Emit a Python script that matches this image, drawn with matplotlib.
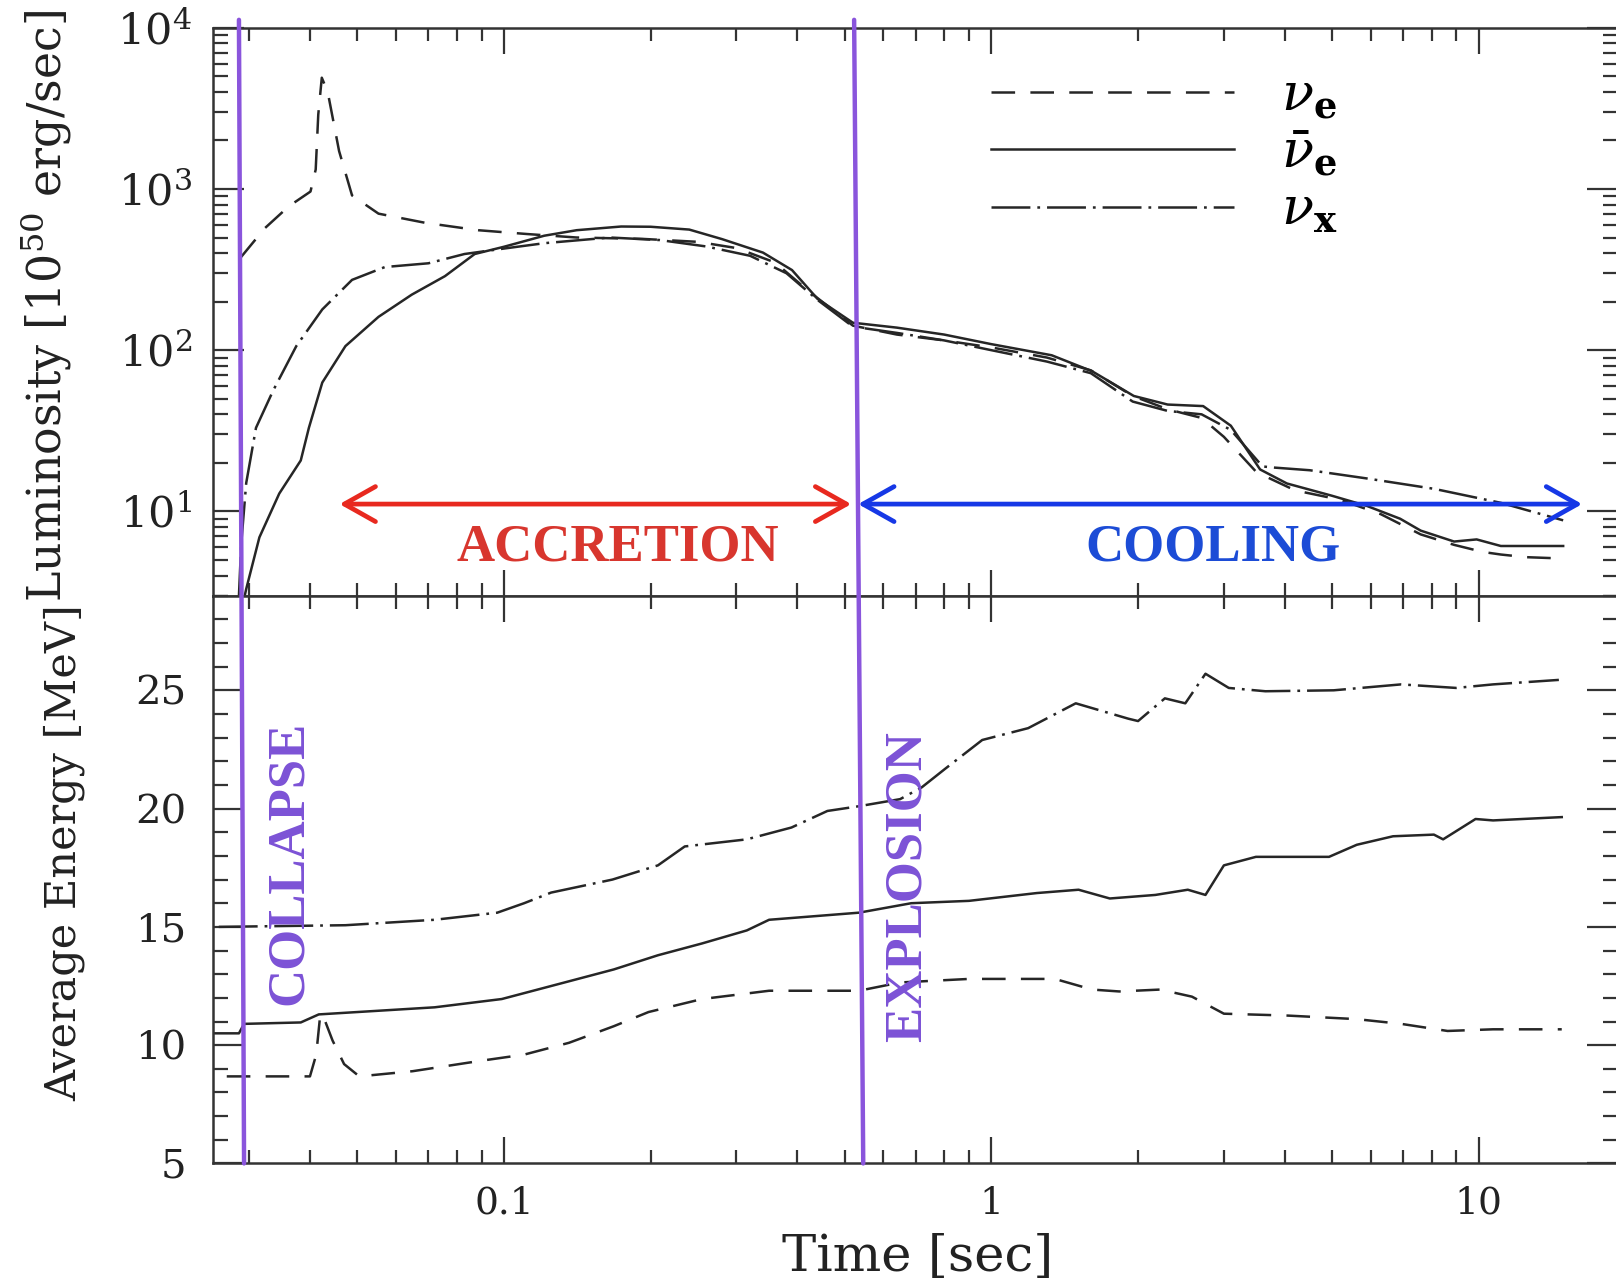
#!/usr/bin/env python3
"""
Neutrino luminosity and mean energy of a core-collapse supernova vs. time.
"""

import matplotlib
matplotlib.use('Agg')
import matplotlib.pyplot as plt
from matplotlib.patches import ConnectionPatch
from matplotlib.ticker import MultipleLocator, FuncFormatter, LogLocator, NullFormatter

# luminosity [10^50 erg/s]
lum_time_nue = [0.0288, 0.0323, 0.0362, 0.0401, 0.0411, 0.0416, 0.0423, 0.0435, 0.0459,
                0.0488, 0.0553, 0.0689, 0.0885, 0.112, 0.141, 0.193, 0.25, 0.30, 0.36,
                0.42, 0.47, 0.52, 0.64, 0.80, 1.0, 1.3, 1.6, 1.95, 2.3, 2.7, 3.0, 3.5,
                4.2, 5.2, 6.3, 7.6, 8.9, 10.2, 11.1, 12.5, 14.9]
lum_nue = [374, 570, 781, 964, 1320, 2890, 4900, 4000, 1720, 912, 703, 617, 555, 525,
           500, 490, 470, 430, 350, 235, 180, 142, 125, 115, 104, 90, 75, 52, 43, 38,
           29, 17.5, 13.5, 11.8, 9.6, 7.2, 6.2, 5.6, 5.4, 5.2, 5.1]

lum_time_nuebar = [0.0290, 0.0296, 0.0315, 0.0346, 0.0383, 0.0398, 0.0424, 0.0473, 0.0553,
                   0.0647, 0.0757, 0.0871, 0.1, 0.121, 0.141, 0.174, 0.2, 0.24, 0.28,
                   0.34, 0.39, 0.44, 0.52, 0.64, 0.80, 1.0, 1.33, 1.61, 1.96, 2.3, 2.72,
                   3.1, 3.56, 4.04, 5.0, 5.9, 6.9, 7.6, 8.9, 9.9, 11.1, 14.9]
lum_nuebar = [2.5, 3.3, 6.9, 12.9, 20.7, 33, 63, 106, 161, 221, 288, 395, 438, 513, 555,
              585, 583, 560, 489, 403, 314, 208, 148, 138, 125, 109, 93, 74, 52, 46, 45,
              34, 18.2, 14.9, 12.5, 10.8, 9.0, 7.6, 6.5, 6.7, 6.1, 6.1]

lum_time_nux = [0.0286, 0.0289, 0.0296, 0.031, 0.0336, 0.0375, 0.0424, 0.0488, 0.057,
                0.070, 0.083, 0.1, 0.121, 0.165, 0.209, 0.26, 0.32, 0.38, 0.44, 0.52,
                0.64, 0.80, 1.0, 1.3, 1.6, 1.95, 2.3, 2.7, 3.1, 3.6, 3.8, 4.5, 5.9, 8.1,
                11.1, 14.9]
lum_nux = [3.0, 6.2, 15, 33, 56, 106, 179, 273, 328, 346, 395, 427, 461, 500, 482, 440,
           385, 300, 205, 140, 128, 115, 100, 85, 72, 48, 42, 40, 32, 19, 18.7, 18, 16,
           13.8, 11.3, 8.8]

# average energy [MeV]
en_time_nue = [0.0270, 0.040, 0.0412, 0.0420, 0.0430, 0.0445, 0.0470, 0.0505, 0.065,
               0.089, 0.110, 0.136, 0.168, 0.198, 0.255, 0.35, 0.535, 0.65, 0.90, 1.35,
               1.61, 1.83, 2.22, 2.58, 3.0, 4.06, 5.62, 6.93, 8.63, 10.7, 14.8]
en_nue = [8.68, 8.68, 9.6, 11.3, 11.0, 10.2, 9.2, 8.68, 8.9, 9.33, 9.6, 10.1, 10.8, 11.4,
          11.95, 12.3, 12.3, 12.65, 12.8, 12.8, 12.35, 12.27, 12.35, 12.05, 11.33, 11.25,
          11.1, 10.9, 10.6, 10.67, 10.67]

en_time_nuebar = [0.0253, 0.0286, 0.0293, 0.0383, 0.0417, 0.0721, 0.099, 0.136, 0.168,
                  0.207, 0.255, 0.315, 0.350, 0.535, 0.685, 0.90, 1.24, 1.51, 1.75, 2.17,
                  2.53, 2.75, 3.0, 3.49, 4.93, 5.62, 6.67, 8.09, 8.45, 9.85, 10.7, 14.8]
en_nuebar = [10.5, 10.5, 10.9, 10.96, 11.3, 11.6, 11.95, 12.7, 13.2, 13.8, 14.3, 14.85,
             15.3, 15.6, 16.0, 16.1, 16.43, 16.57, 16.2, 16.35, 16.57, 16.35, 17.6, 17.96,
             17.96, 18.47, 18.83, 18.9, 18.7, 19.56, 19.5, 19.64]

en_time_nux = [0.0260, 0.0473, 0.0721, 0.0969, 0.110, 0.125, 0.167, 0.207, 0.235, 0.315,
               0.389, 0.461, 0.535, 0.65, 0.72, 0.806, 0.958, 1.19, 1.49, 1.91, 2.0, 2.27,
               2.5, 2.75, 3.07, 3.65, 5.04, 6.93, 8.99, 10.7, 14.6]
en_nux = [15.0, 15.07, 15.3, 15.6, 16.0, 16.45, 17.0, 17.6, 18.4, 18.7, 19.2, 19.9, 20.1,
          20.4, 20.9, 21.7, 22.9, 23.4, 24.45, 23.8, 23.7, 24.66, 24.45, 25.7, 25.1,
          24.96, 25.0, 25.25, 25.1, 25.25, 25.44]

# phases of the explosion
collapse_time = (0.0286, 0.0293)
explosion_time = (0.523, 0.546)
accretion_span = (0.046, 0.516)
cooling_span = (0.533, 16.3)
arrow_level = 11.1

labels = [r'$\nu_{\mathbf{e}}$', r'$\bar{\nu}_{\mathbf{e}}$', r'$\nu_{\mathbf{x}}$']

plt.rcParams['font.family'] = ['DejaVu Serif']
plt.rcParams['mathtext.fontset'] = 'dejavuserif'
plt.rcParams['lines.scale_dashes'] = False

INK = '#262626'
PURPLE = '#8a55dc'
styles = [(0, (17, 11)), '-', (0, (28, 5, 2, 5))]

fig = plt.figure(figsize=(16.16, 12.86), dpi=100)
ax_lum = fig.add_axes([0.1318, 0.5368, 0.8694, 0.4416])
ax_en = fig.add_axes([0.1318, 0.0953, 0.8694, 0.4415], sharex=ax_lum)

lum_series = [(lum_time_nue, lum_nue), (lum_time_nuebar, lum_nuebar), (lum_time_nux, lum_nux)]
en_series = [(en_time_nue, en_nue), (en_time_nuebar, en_nuebar), (en_time_nux, en_nux)]

for (t, v), ls, lab in zip(lum_series, styles, labels):
    ax_lum.plot(t, v, color=INK, lw=1.8, linestyle=ls, label=lab)
for (t, v), ls in zip(en_series, styles):
    ax_en.plot(t, v, color=INK, lw=1.8, linestyle=ls)

ax_lum.set_xscale('log')
ax_lum.set_yscale('log')
ax_lum.set_xlim(0.0253, 19.3)
ax_lum.set_ylim(3, 1e4)
ax_en.set_ylim(5, 29)

ax_lum.yaxis.set_major_locator(LogLocator(base=10))
ax_lum.yaxis.set_minor_locator(LogLocator(base=10, subs=range(2, 10)))
ax_lum.yaxis.set_minor_formatter(NullFormatter())
ax_en.xaxis.set_major_formatter(FuncFormatter(lambda v, _: f'{v:g}'))
ax_en.xaxis.set_minor_formatter(NullFormatter())
ax_en.yaxis.set_major_locator(MultipleLocator(5))
ax_en.yaxis.set_minor_locator(MultipleLocator(1))
plt.setp(ax_lum.get_xticklabels(), visible=False)

for ax in (ax_lum, ax_en):
    ax.tick_params(which='both', direction='in', top=True, right=True,
                   width=1.6, color='#333333', labelcolor='#222222')
    ax.tick_params(axis='x', which='major', length=19, pad=16, labelsize=27)
    ax.tick_params(axis='x', which='minor', length=9.5)
    ax.tick_params(axis='y', which='major', length=22)
    ax.tick_params(axis='y', which='minor', length=11)
    for sp in ax.spines.values():
        sp.set_linewidth(1.8)
        sp.set_color('#333333')
ax_lum.tick_params(axis='y', which='major', labelsize=31, pad=15)
ax_en.tick_params(axis='y', which='major', labelsize=29, pad=19)

# legend
ax_lum.legend(loc='upper left', bbox_to_anchor=(0.5537, 0.925), frameon=False,
              fontsize=38, handlelength=4.6, handletextpad=0.9, labelspacing=0.12,
              borderpad=0, borderaxespad=0)

# phase arrows and labels
arrow_style = '<->,head_length=0.8,head_width=0.45'
ax_lum.annotate('', xy=(accretion_span[0], arrow_level), xytext=(accretion_span[1], arrow_level),
                arrowprops=dict(arrowstyle=arrow_style, mutation_scale=28, lw=3.4,
                                color='#e8291f', shrinkA=0, shrinkB=0), zorder=5)
ax_lum.annotate('', xy=(cooling_span[1], arrow_level), xytext=(cooling_span[0], arrow_level),
                arrowprops=dict(arrowstyle=arrow_style, mutation_scale=28, lw=3.4,
                                color='#1638e6', shrinkA=0, shrinkB=0), zorder=5)
serif_bold = dict(family='Liberation Serif', fontweight='bold', fontsize=38,
                  ha='center', va='center')
ax_lum.text(0.171, 6.0, 'ACCRETION', color='#d8362e', **serif_bold)
ax_lum.text(2.85, 6.0, 'COOLING', color='#1c4cd6', **serif_bold)
ax_en.text(0.0362, 17.7, 'COLLAPSE', color='#7c52d6', rotation=90, **serif_bold)
ax_en.text(0.673, 16.7, 'EXPLOSION', color='#7c52d6', rotation=90, **serif_bold)

# collapse and explosion markers across both panels
for t_top, t_bot in (collapse_time, explosion_time):
    con = ConnectionPatch(xyA=(t_top, 1.014), coordsA=ax_lum.get_xaxis_transform(),
                          xyB=(t_bot, 0.0), coordsB=ax_en.get_xaxis_transform(),
                          color=PURPLE, lw=3.2, zorder=10)
    fig.add_artist(con)

fig.text(0.0285, 0.762, r'Luminosity [10$^{50}$ erg/sec]', rotation=90,
         ha='center', va='center', fontsize=33, color='#222222')
fig.text(0.0396, 0.337, 'Average Energy [MeV]', rotation=90,
         ha='center', va='center', fontsize=31, color='#222222')
fig.text(0.568, 0.0226, 'Time [sec]', ha='center', va='center', fontsize=37,
         color='#222222')

fig.savefig('out.png', dpi=100)
plt.close(fig)
